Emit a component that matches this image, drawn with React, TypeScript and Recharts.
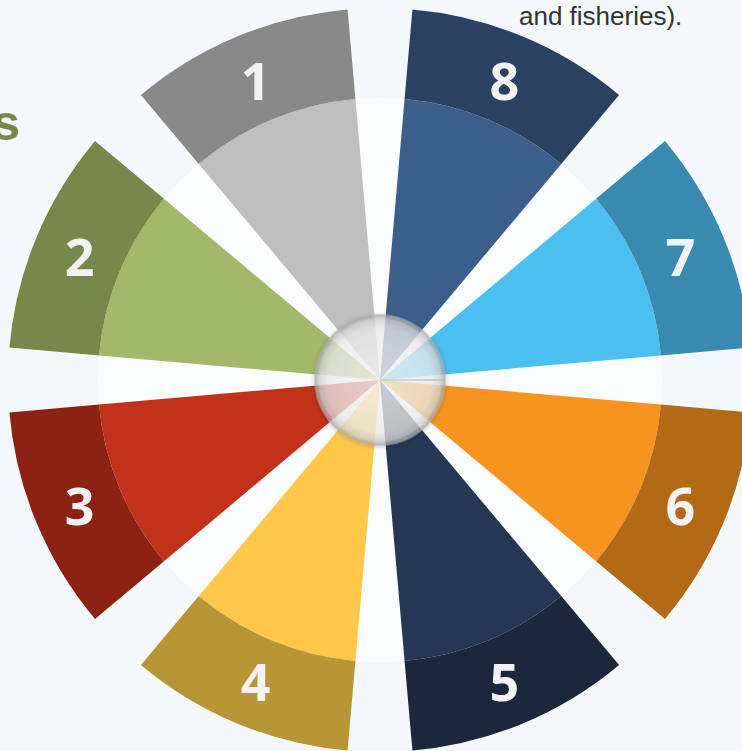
import { Pie, PieChart } from 'recharts';

// segments listed counterclockwise starting at 3 o'clock (7, 8, 1, 2, ...)
const segmentLabels = ['7', '8', '1', '2', '3', '4', '5', '6'];
const segmentValues = [1, 1, 1, 1, 1, 1, 1, 1];
const innerColors = ['#4bbfef', '#3b5e8b', '#bfbfbf', '#a2b86a', '#c2311a', '#fec84a', '#253752', '#f7941f'];
const outerColors = ['#388ab0', '#2b4162', '#898989', '#76894b', '#8c2213', '#b89535', '#1b273a', '#b26a17'];

const CX = 380;
const CY = 380;
const RAD = Math.PI / 180;

const innerData = segmentLabels.map((label, i) => ({
  name: label,
  value: segmentValues[i],
  fill: innerColors[i],
}));
const outerData = segmentLabels.map((label, i) => ({
  name: label,
  value: segmentValues[i],
  fill: outerColors[i],
}));

function NumberLabel(props: any) {
  const { cx, cy, midAngle, innerRadius, outerRadius, name } = props;
  const r = (innerRadius + outerRadius) / 2 - 2;
  const x = cx + r * Math.cos(-midAngle * RAD);
  const y = cy + r * Math.sin(-midAngle * RAD);
  return (
    <text
      x={x}
      y={y}
      fill="#f2f2f2"
      textAnchor="middle"
      dominantBaseline="central"
      fontFamily="'Open Sans', sans-serif"
      fontWeight={700}
      fontSize={52}
    >
      {name}
    </text>
  );
}

export default function App() {
  return (
    <div
      style={{
        position: 'absolute',
        left: 0,
        top: 0,
        width: 742,
        height: 751,
        overflow: 'hidden',
        background: '#f5f8fa',
      }}
    >
      <svg width={0} height={0} style={{ position: 'absolute' }}>
        <defs>
          <radialGradient id="hubGlass" cx="50%" cy="50%" r="50%">
            <stop offset="0%" stopColor="#ffffff" stopOpacity={0.72} />
            <stop offset="80%" stopColor="#f4f4f4" stopOpacity={0.7} />
            <stop offset="93%" stopColor="#d6d6d6" stopOpacity={0.75} />
            <stop offset="100%" stopColor="#a8a8a8" stopOpacity={0.6} />
          </radialGradient>
          <filter id="hubShadow" x="-20%" y="-20%" width="140%" height="140%">
            <feGaussianBlur in="SourceAlpha" stdDeviation="2" />
            <feOffset dx="0" dy="1" result="blur" />
            <feComponentTransfer>
              <feFuncA type="linear" slope="0.35" />
            </feComponentTransfer>
            <feMerge>
              <feMergeNode />
              <feMergeNode in="SourceGraphic" />
            </feMerge>
          </filter>
        </defs>
      </svg>
      <PieChart width={742} height={751} margin={{ top: 0, right: 0, bottom: 0, left: 0 }}>
        <Pie
          data={[{ name: 'base', value: 1 }]}
          dataKey="value"
          cx={CX}
          cy={CY}
          innerRadius={0}
          outerRadius={282}
          fill="#fbfcfd"
          stroke="none"
          isAnimationActive={false}
        />
        <Pie
          data={innerData}
          dataKey="value"
          cx={CX}
          cy={CY}
          startAngle={5}
          endAngle={365}
          paddingAngle={10}
          innerRadius={0}
          outerRadius={282}
          stroke="none"
          isAnimationActive={false}
        />
        <Pie
          data={outerData}
          dataKey="value"
          cx={CX}
          cy={CY}
          startAngle={5}
          endAngle={365}
          paddingAngle={10}
          innerRadius={282}
          outerRadius={372}
          stroke="none"
          label={NumberLabel}
          labelLine={false}
          isAnimationActive={false}
        />
        <Pie
          data={[{ name: 'hub', value: 1 }]}
          dataKey="value"
          cx={CX}
          cy={CY}
          innerRadius={0}
          outerRadius={65}
          fill="url(#hubGlass)"
          stroke="#b0b0b0"
          strokeOpacity={0.45}
          strokeWidth={2}
          style={{ filter: 'url(#hubShadow)' }}
          isAnimationActive={false}
        />
      </PieChart>
      <div
        style={{
          position: 'absolute',
          left: 519,
          top: 1,
          fontFamily: "'Liberation Sans', Arial, sans-serif",
          fontSize: 26,
          color: '#333333',
          whiteSpace: 'nowrap',
        }}
      >
        and fisheries).
      </div>
      <div
        style={{
          position: 'absolute',
          right: 722,
          top: 94,
          fontFamily: "'Liberation Sans', Arial, sans-serif",
          fontWeight: 700,
          fontSize: 50,
          color: '#76894b',
          whiteSpace: 'nowrap',
        }}
      >
        s
      </div>
    </div>
  );
}
